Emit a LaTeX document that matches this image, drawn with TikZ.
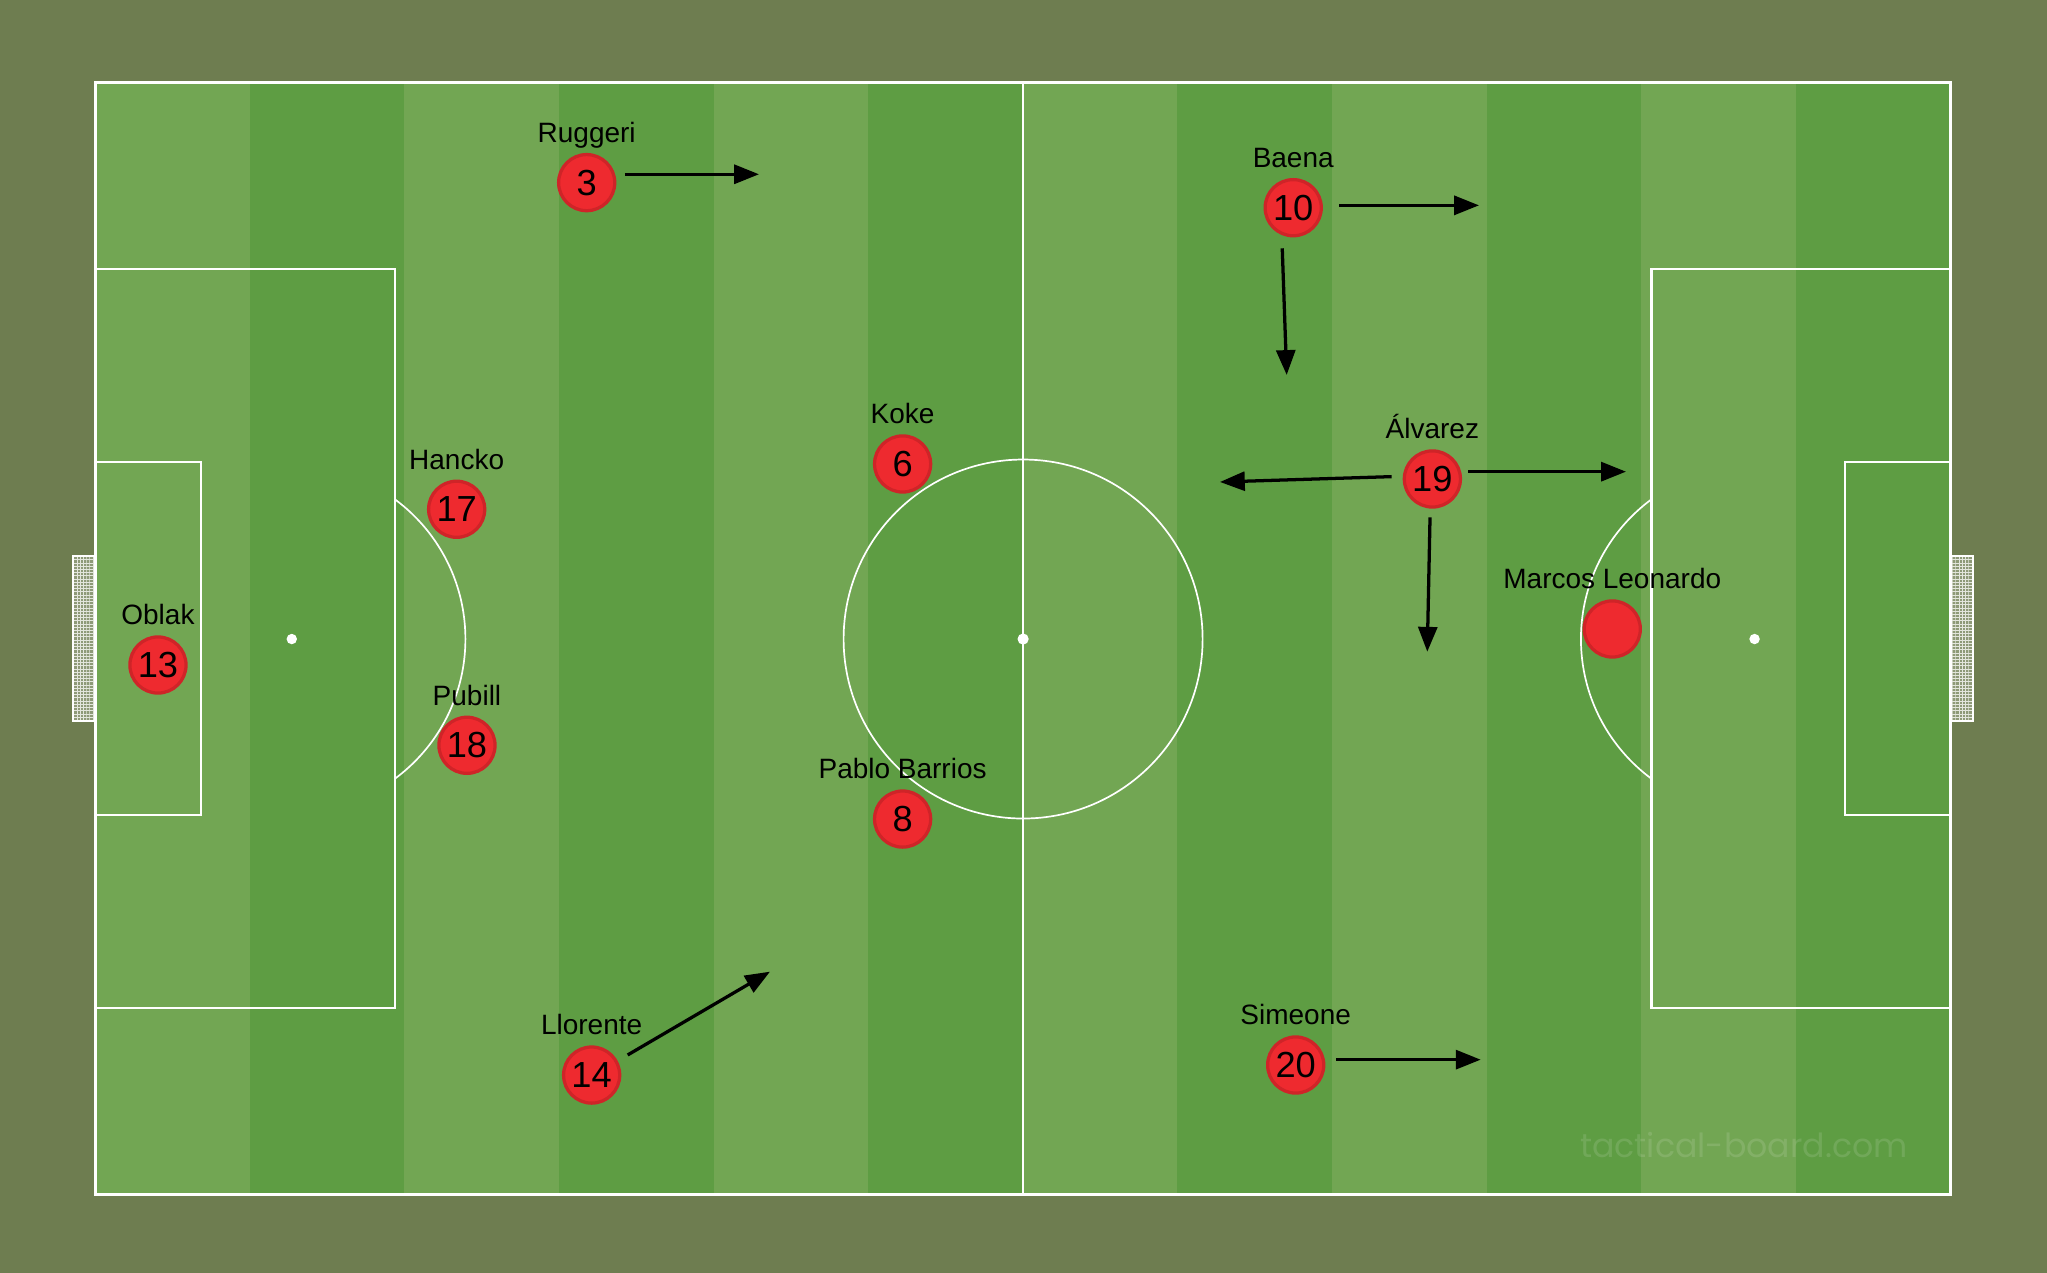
\documentclass[tikz,border=0pt]{standalone}
\usepackage{fontspec}
\setmainfont{Liberation Sans}
\newfontfamily\wmfont{Poppins}
\usetikzlibrary{arrows.meta,patterns}
\definecolor{bgolive}{HTML}{6E7D50}
\definecolor{stripelight}{HTML}{72A653}
\definecolor{stripedark}{HTML}{5E9D43}
\definecolor{plfill}{HTML}{EE2A2F}
\definecolor{plring}{HTML}{CF2428}
\definecolor{netcol}{HTML}{8E9A78}
\pgfdeclarepatternformonly{finenet}{\pgfqpoint{-0.1pt}{-0.1pt}}{\pgfqpoint{0.8pt}{0.8pt}}{\pgfqpoint{0.7pt}{0.7pt}}{%
  \pgfsetlinewidth{0.2pt}%
  \pgfpathmoveto{\pgfqpoint{0pt}{0pt}}\pgfpathlineto{\pgfqpoint{0.7pt}{0pt}}%
  \pgfpathmoveto{\pgfqpoint{0pt}{0pt}}\pgfpathlineto{\pgfqpoint{0pt}{0.7pt}}%
  \pgfusepath{stroke}}
\begin{document}
\begin{tikzpicture}[x=0.1mm,y=-0.1mm,
  outerline/.style={draw=white,line width=0.24mm},
  boxline/.style={draw=white,line width=0.17mm},
  circline/.style={draw=white,line width=0.13mm},
  player/.style={circle,minimum size=4.3mm,inner sep=0pt,fill=plfill,draw=plring,line width=0.25mm,font=\fontsize{7.9}{8}\selectfont},
  plabel/.style={anchor=base,inner sep=0pt,font=\fontsize{6.1}{7}\selectfont},
  mv/.style={draw=black,line width=0.25mm,-{Triangle[length=1.9mm,width=1.45mm]}}
]
\useasboundingbox (0,0) rectangle (1568,975);
\fill[bgolive] (0,0) rectangle (1568,975);
% stripes
\foreach \i in {0,2,...,10} \fill[stripelight] ({73+\i*118.4167},63) rectangle ({73+(\i+1)*118.4167},915);
\foreach \i in {1,3,...,11} \fill[stripedark] ({73+\i*118.4167},63) rectangle ({73+(\i+1)*118.4167},915);
% goals
\fill[netcol] (55.7,426) rectangle (73,552);
\fill[pattern=finenet,pattern color=white!75!netcol] (55.7,426) rectangle (73,552);
\draw[boxline] (55.7,426) rectangle (73,552);
\fill[netcol] (1494,426) rectangle (1511.3,552);
\fill[pattern=finenet,pattern color=white!75!netcol] (1494,426) rectangle (1511.3,552);
\draw[boxline] (1494,426) rectangle (1511.3,552);
% pitch lines
\draw[outerline] (73,63) rectangle (1494,915);
\draw[boxline] (783.7,63) -- (783.7,915);
\draw[boxline] (73,206) rectangle (302.5,772);
\draw[boxline] (73,354) rectangle (154,624);
\draw[boxline] (1265,206) rectangle (1494,772);
\draw[boxline] (1413,354) rectangle (1494,624);
\draw[circline] (783.7,489.5) circle[radius=137.5];
\begin{scope}
  \clip (302.5,0) rectangle (783,975);
  \draw[circline] (223.5,489.5) circle[radius=133];
\end{scope}
\begin{scope}
  \clip (783,0) rectangle (1265,975);
  \draw[circline] (1344,489.5) circle[radius=133];
\end{scope}
\fill[white] (223.5,489.5) circle[radius=4];
\fill[white] (783.7,489.5) circle[radius=4.3];
\fill[white] (1344,489.5) circle[radius=4];
% watermark
\node[anchor=base west,inner sep=0pt,text=white,text opacity=0.12] (wm) at (1209.7,886.3) {\resizebox{25.08mm}{!}{\wmfont tactical-board.com}};
% arrows
\coordinate (a3s) at (478.7,133.5);   \coordinate (a3e) at (581.4,133.5);
\coordinate (a14s) at (480.8,808.1);  \coordinate (a14e) at (589.8,744.3);
\coordinate (a10rs) at (1025.9,157.3); \coordinate (a10re) at (1132.9,157.3);
\coordinate (a10ds) at (982.2,190.2);  \coordinate (a10de) at (985.6,287.2);
\coordinate (a19ls) at (1066,365.1);   \coordinate (a19le) at (934.5,369.2);
\coordinate (a19rs) at (1124.7,361.3); \coordinate (a19re) at (1245.5,361.3);
\coordinate (a19ds) at (1095.4,396.3); \coordinate (a19de) at (1093.3,499.2);
\coordinate (a20s) at (1023.4,811.7);  \coordinate (a20e) at (1134.2,811.7);
\draw[mv] (a3s) -- (a3e);
\draw[mv] (a14s) -- (a14e);
\draw[mv] (a10rs) -- (a10re);
\draw[mv] (a10ds) -- (a10de);
\draw[mv] (a19ls) -- (a19le);
\draw[mv] (a19rs) -- (a19re);
\draw[mv] (a19ds) -- (a19de);
\draw[mv] (a20s) -- (a20e);
% players
\node[player] (p13) at (121,509.4) {13};
\node[plabel] (l13) at (121,478.7) {Oblak};
\node[player] (p17) at (349.8,390.1) {17};
\node[plabel] (l17) at (349.8,359.4) {Hancko};
\node[player] (p18) at (357.7,570.9) {18};
\node[plabel] (l18) at (357.7,540.2) {Pubill};
\node[player] (p3) at (449.4,139.9) {3};
\node[plabel] (l3) at (449.4,109.2) {Ruggeri};
\node[player] (p14) at (453.2,823.5) {14};
\node[plabel] (l14) at (453.2,792.8) {Llorente};
\node[player] (p6) at (691.4,355.4) {6};
\node[plabel] (l6) at (691.4,324.7) {Koke};
\node[player] (p8) at (691.4,627.4) {8};
\node[plabel] (l8) at (691.4,596.7) {Pablo Barrios};
\node[player] (p10) at (990.6,159.1) {10};
\node[plabel] (l10) at (990.6,128.4) {Baena};
\node[player] (p19) at (1097.2,366.9) {19};
\node[plabel] (l19) at (1097.2,336.2) {Álvarez};
\node[player] (p20) at (992.5,815.8) {20};
\node[plabel] (l20) at (992.5,785.1) {Simeone};
\node[player] (pml) at (1235,481.8) {};
\node[plabel] (lml) at (1235,451.1) {Marcos Leonardo};
\end{tikzpicture}
\end{document}
